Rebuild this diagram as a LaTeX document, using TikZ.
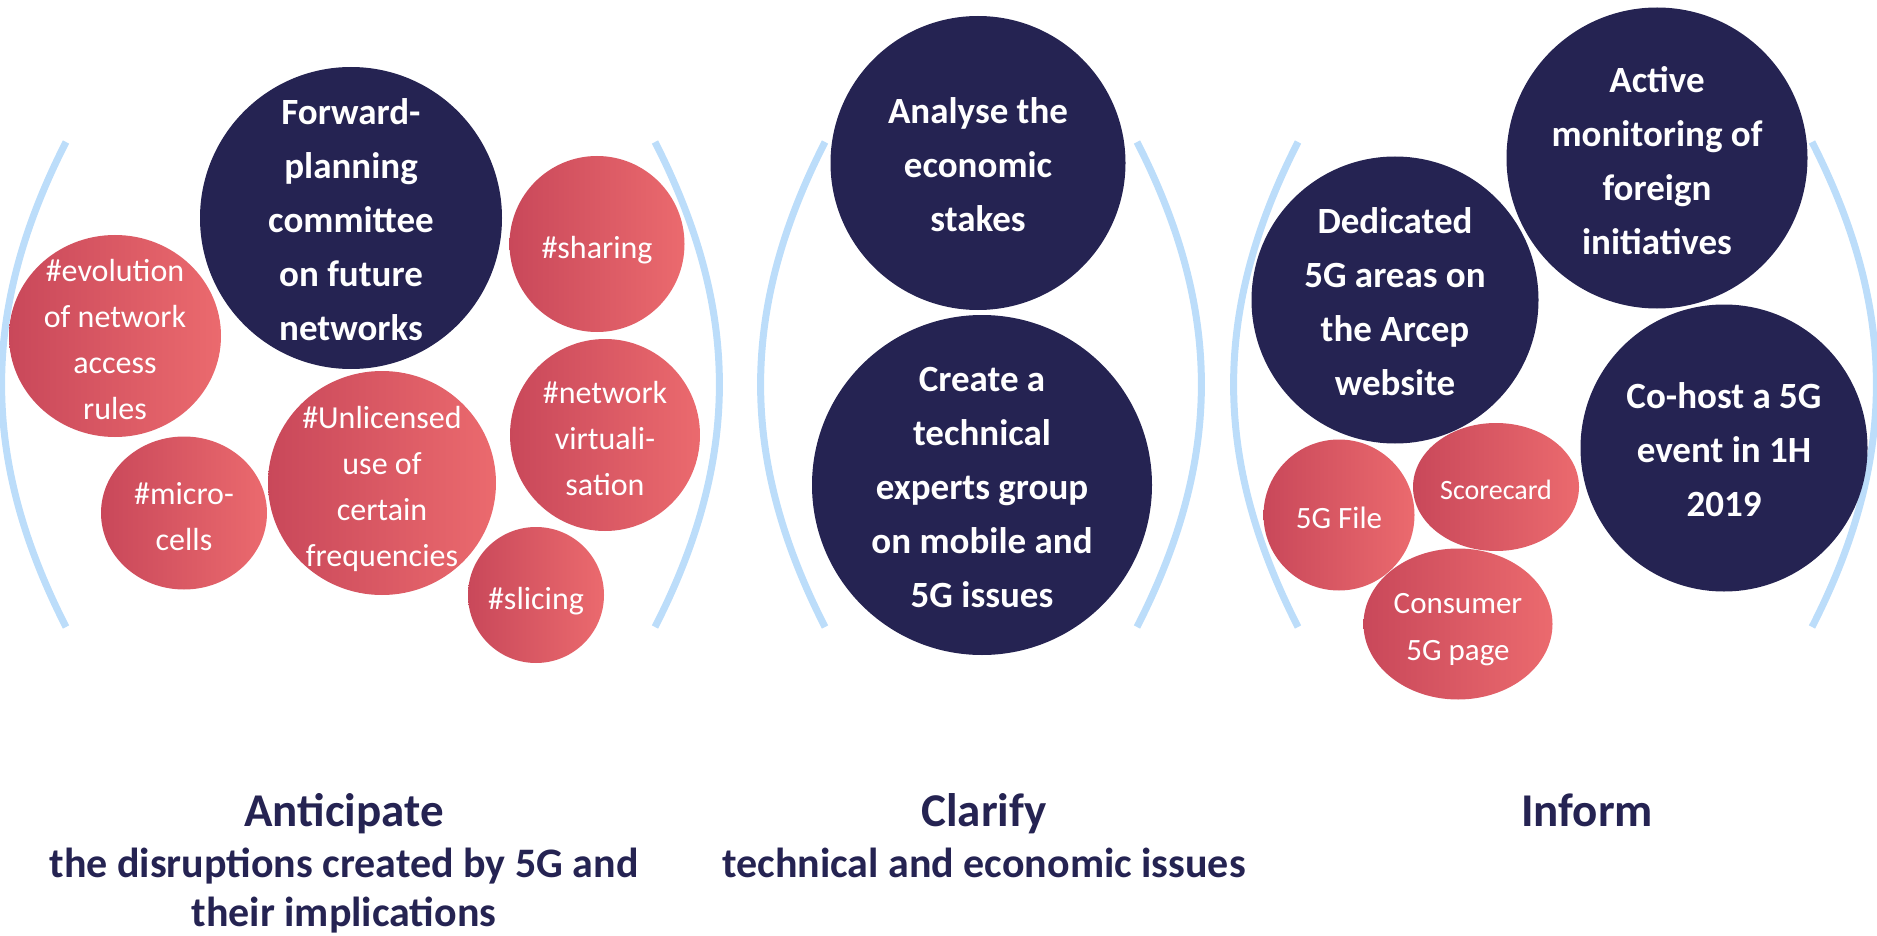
\documentclass[tikz,border=0pt]{standalone}
\usepackage{fontspec}
\setmainfont{Carlito}
\usetikzlibrary{shapes.geometric}

\definecolor{navy}{RGB}{37,35,82}
\definecolor{rosedark}{RGB}{201,72,90}
\definecolor{roselight}{RGB}{235,106,110}
\definecolor{skyline}{RGB}{188,221,250}

\begin{document}
\begin{tikzpicture}
  [x=1pt,y=-1pt,every node/.style={inner sep=0pt},
   dims/.style 2 args={minimum width=#1,minimum height=#2},
   goal/.style={ellipse,fill=navy,label={[goaltext]center:{#1}}},
   goaltext/.style={text=white,align=center,text depth=0pt,yshift=-2pt,font=\bfseries\fontsize{37}{54}\selectfont},
   tag/.style={ellipse,left color=rosedark,right color=roselight,label={[tagtext]center:{#1}}},
   tagtext/.style={text=white,align=center,text depth=0pt,yshift=-3pt,font=\fontsize{32}{46}\selectfont},
   page/.style={ellipse,left color=rosedark,right color=roselight,label={[pagetext]center:{#1}}},
   pagetext/.style={text=white,align=center,text depth=0pt,yshift=-3pt,font=\fontsize{31}{47}\selectfont},
   paren/.style={draw=skyline,line width=7pt},
   headline/.style={text=navy,font=\bfseries\fontsize{47}{56}\selectfont},
   subline/.style={text=navy,font=\bfseries\fontsize{42}{51}\selectfont}]

  \useasboundingbox (0,0) rectangle (1877,936);

  % brackets round the three groups
  \foreach \x/\side in {66/right,655/left,825/right,1137/left,1298/right,1812/left}
    \draw[paren] (\x,142) to[bend \side=27] (\x,627);

  % anticipate
  \node[tag={\#evolution\\of network\\access\\rules},dims={212}{202}] (evol) at (115,336) {};
  \node[tag={\#sharing},dims={175}{176}] (share) at (597,244) {};
  \node[tag={\#network\\virtuali-\\sation},dims={190}{192}] (virt) at (605,435) {};
  \node[tag={\#micro-\\cells},dims={166}{153}] (micro) at (184,513) {};
  \node[tag={\#Unlicensed\\use of\\certain\\frequencies},dims={228}{224}] (unlic) at (382,483) {};
  \node[tag={\#slicing},dims={136}{136}] (slice) at (536,595) {};
  \node[goal={Forward-\\planning\\committee\\on future\\networks},dims={302}{302}] (fwd) at (351,218) {};

  % clarify
  \node[goal={Analyse the\\economic\\stakes},dims={295}{294}] (stakes) at (978,163) {};
  \node[goal={Create a\\technical\\experts group\\on mobile and\\5G issues},dims={340}{340}] (experts) at (982,485) {};

  % inform
  \node[page={5G File},dims={151}{151}] (file) at (1339,515) {};
  \node[page={\fontsize{28}{47}\selectfont Scorecard},dims={166}{128}] (score) at (1496,487) {};
  \node[page={Consumer\\5G page},dims={189}{151}] (consumer) at (1458,624) {};
  \node[goal={Active\\monitoring of\\foreign\\initiatives},dims={301}{301}] (watch) at (1657,158) {};
  \node[goal={Dedicated\\5G areas on\\the Arcep\\website},dims={287}{287}] (site) at (1395,300) {};
  \node[goal={Co-host a 5G\\event in 1H\\2019},dims={287}{287}] (event) at (1724,448) {};

  % captions
  \node[headline,anchor=base] (antic) at (344,826) {Anticipate};
  \node[subline,anchor=base] (anticsub) at (344,877) {the disruptions created by 5G and};
  \node[subline,anchor=base] (anticsub2) at (344,926) {their implications};
  \node[headline,anchor=base] (clar) at (984,826) {Clarify};
  \node[subline,anchor=base] (clarsub) at (984,877) {technical and economic issues};
  \node[headline,anchor=base] (inform) at (1587,826) {Inform};

\end{tikzpicture}
\end{document}
